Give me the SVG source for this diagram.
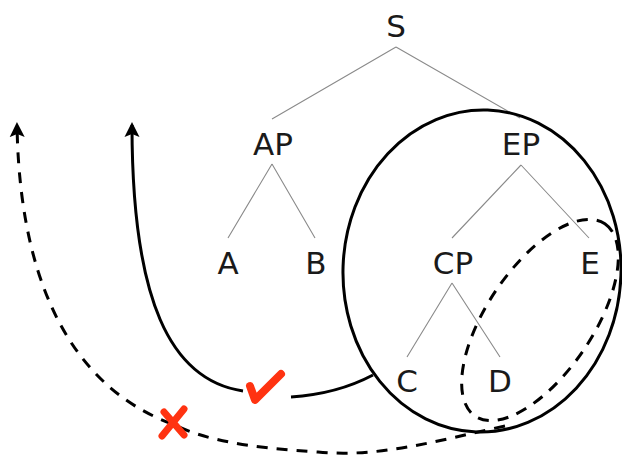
<svg xmlns="http://www.w3.org/2000/svg" width="622" height="457" viewBox="0 0 622 457">
<style>
.lbl{font-family:"DejaVu Sans",sans-serif;font-size:31px;fill:#1a1a1a;text-anchor:middle}
.br{stroke:#8a8a8a;stroke-width:1.1;fill:none}
.solid{stroke:#000;stroke-width:3;fill:none}
.dash{stroke:#000;stroke-width:3;fill:none;stroke-dasharray:11 9}
.mark{stroke:#ff3311;stroke-linecap:round;stroke-linejoin:round;fill:none}
</style>
<defs>
<marker id="ah" markerUnits="userSpaceOnUse" markerWidth="16" markerHeight="16" refX="12" refY="8" orient="auto">
<path d="M0,0.5 L15,8 L0,15.5 L3,8 Z" fill="#000"/>
</marker>
</defs>
<rect width="622" height="457" fill="#fff"/>
<g id="branches">
<path class="br" d="M396 47 L272 119 M396 47 L520 118"/>
<path class="br" d="M272 164 L228 238 M272 164 L315 238"/>
<path class="br" d="M521 165 L452 238 M521 165 L589 238"/>
<path class="br" d="M452 283 L407 357 M452 283 L500 357"/>
</g>
<g id="node-S"><text class="lbl" x="396" y="37">S</text></g>
<g id="node-AP"><text class="lbl" x="273" y="155">AP</text></g>
<g id="node-EP"><text class="lbl" x="521" y="155">EP</text></g>
<g id="node-A"><text class="lbl" x="228" y="274">A</text></g>
<g id="node-B"><text class="lbl" x="316" y="274">B</text></g>
<g id="node-CP"><text class="lbl" x="453" y="274">CP</text></g>
<g id="node-E"><text class="lbl" x="590" y="274">E</text></g>
<g id="node-C"><text class="lbl" x="407" y="392">C</text></g>
<g id="node-D"><text class="lbl" x="500" y="392">D</text></g>
<g id="regions">
<ellipse class="solid" cx="482" cy="271" rx="139" ry="161" transform="rotate(2 482 271)"/>
<ellipse class="dash" cx="540" cy="320" rx="116" ry="53" transform="rotate(-56 540 320)"/>
</g>
<g id="connectors">
<path class="solid" d="M243 391 C170 380 132 300 132 125" marker-end="url(#ah)"/>
<path class="solid" d="M291 397 Q337 394 373 375"/>
<path class="dash" d="M505 426 C440 440 380 458 318 452 C250 448 205 440 175 425 C90 395 20 310 17 125" marker-end="url(#ah)"/>
</g>
<g id="marks">
<path class="mark" stroke-width="8" d="M250 386 L255 400 L281 374"/>
<path class="mark" stroke-width="7" d="M164 412 L184 435 M184 409 L162 436"/>
</g>
</svg>
